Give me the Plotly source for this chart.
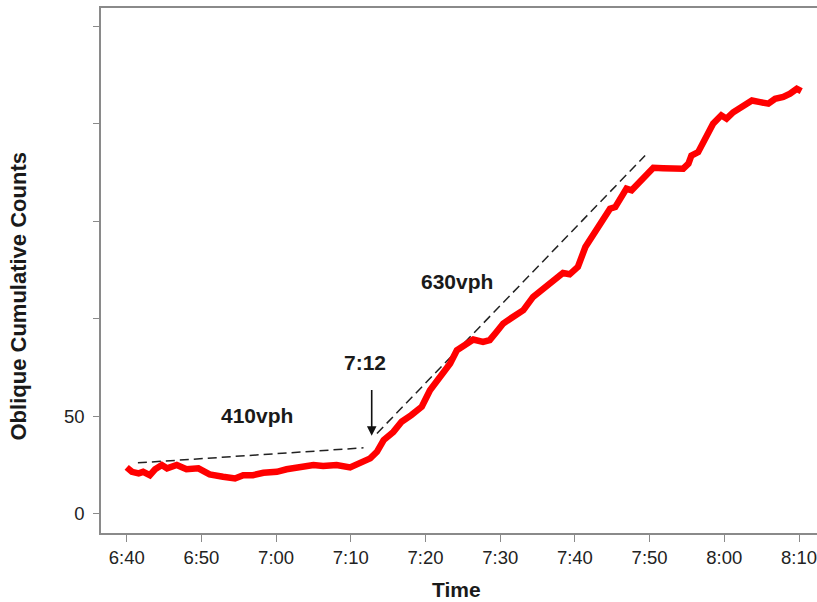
import plotly.graph_objects as go

# Minutes after 6:40 and oblique cumulative counts
time_min = [0, 0.7, 1.6, 2.2, 3.1, 3.8, 4.7, 5.4, 6.7, 8.0, 9.6, 11.1, 12.9, 14.5, 15.6,
            16.9, 18.3, 20.1, 21.4, 23.2, 25.0, 26.3, 28.1, 29.9, 31.2, 32.6, 33.5, 34.4,
            35.7, 36.8, 38.1, 39.5, 40.6, 41.9, 43.3, 44.2, 45.1, 46.4, 47.7, 48.6, 49.5,
            50.4, 51.7, 53.1, 54.4, 55.8, 57.1, 58.4, 59.3, 60.4, 61.4, 62.5, 63.8, 64.7,
            65.4, 66.0, 66.9, 67.6, 68.7, 69.6, 70.5, 71.8, 73.2, 74.5, 75.2, 75.6, 76.5,
            77.6, 78.5, 79.6, 80.3, 81.2, 82.3, 83.7, 84.8, 85.9, 86.8, 87.9, 88.8, 89.7, 90.3]
counts = [23.7, 21.4, 20.6, 21.4, 19.7, 22.7, 24.9, 23.2, 24.9, 22.7, 23.2, 20.1, 18.9, 18.0,
          19.7, 19.7, 20.9, 21.4, 22.7, 24.0, 24.9, 24.4, 24.9, 23.7, 26.1, 28.3, 31.7, 37.7,
          41.9, 47.1, 50.5, 54.8, 63.3, 70.2, 77.0, 83.8, 85.9, 89.3, 88.1, 89.0, 93.2, 97.5,
          100.9, 104.4, 111.2, 115.5, 119.7, 123.5, 122.8, 126.6, 136.8, 143.7, 151.4, 156.5,
          157.3, 161.6, 166.8, 165.9, 170.2, 173.6, 177.5, 177.3, 177.5, 177.0, 179.6, 183.8,
          185.5, 193.2, 200.1, 204.4, 202.7, 206.0, 208.6, 212.0, 211.2, 210.4, 212.9, 213.8,
          215.5, 218.0, 216.8]

# Fitted flow-rate lines
fit1_t = [1.5, 31.7]
fit1_c = [26.0, 33.7]
fit2_t = [33.5, 69.4]
fit2_c = [41.1, 183.8]

# Breakpoint arrow (7:12)
arrow_t = 32.8
arrow_tip = 39.9
arrow_tail = 64.2

x_tickvals = [0, 10, 20, 30, 40, 50, 60, 70, 80, 90]
x_ticktext = ["6:40", "6:50", "7:00", "7:10", "7:20", "7:30", "7:40", "7:50", "8:00", "8:10"]
y_tickvals = [0, 50, 100, 150, 200, 250]
y_ticktext = ["0", "50", "", "", "", ""]

FONT = "Liberation Sans, Arial, sans-serif"
AXIS_COLOR = "#8a8a8a"

fig = go.Figure()
fig.add_trace(go.Scatter(x=fit1_t, y=fit1_c, mode="lines",
                         line=dict(color="#222222", width=1.5, dash="9px,5px"),
                         showlegend=False, hoverinfo="skip"))
fig.add_trace(go.Scatter(x=fit2_t, y=fit2_c, mode="lines",
                         line=dict(color="#222222", width=1.5, dash="9px,5px"),
                         showlegend=False, hoverinfo="skip"))
fig.add_trace(go.Scatter(x=time_min, y=counts, mode="lines",
                         line=dict(color="#ff0000", width=6.5, shape="linear"),
                         showlegend=False))

fig.add_annotation(x=arrow_t, y=arrow_tip, ax=arrow_t, ay=arrow_tail,
                   xref="x", yref="y", axref="x", ayref="y",
                   showarrow=True, arrowhead=2, arrowsize=1.2, arrowwidth=1.6,
                   arrowcolor="#111111", text="", standoff=0)

label_font = dict(family=FONT, size=21, color="#1a1a1a")
fig.add_annotation(x=17.5, y=50.4, text="<b>410vph</b>", showarrow=False,
                   xref="x", yref="y", font=label_font)
fig.add_annotation(x=31.9, y=77.5, text="<b>7:12</b>", showarrow=False,
                   xref="x", yref="y", font=label_font)
fig.add_annotation(x=44.2, y=119.3, text="<b>630vph</b>", showarrow=False,
                   xref="x", yref="y", font=label_font)

# Axis titles
fig.add_annotation(x=0.497, y=-0.1067, xref="paper", yref="paper", text="<b>Time</b>",
                   showarrow=False, font=label_font, xanchor="center", yanchor="middle")
fig.add_annotation(x=-0.1355, y=0.4514, xref="paper", yref="paper",
                   text="<b>Oblique Cumulative Counts</b>", textangle=-90,
                   showarrow=False, font=dict(family=FONT, size=22, color="#1a1a1a"),
                   xanchor="left", yanchor="middle")

fig.update_xaxes(range=[-3.44, 92.41], tickvals=x_tickvals, ticktext=x_ticktext,
                 showline=True, linecolor=AXIS_COLOR, linewidth=1.5, mirror=True,
                 ticks="outside", ticklen=7, tickcolor=AXIS_COLOR, tickwidth=1.3,
                 showgrid=False, zeroline=False, automargin=False,
                 ticklabeloverflow="allow",
                 tickfont=dict(family=FONT, size=18.5, color="#222222"))
fig.update_yaxes(range=[-10, 259.5], tickvals=y_tickvals, ticktext=y_ticktext,
                 showline=True, linecolor=AXIS_COLOR, linewidth=1.5, mirror=False,
                 ticks="outside", ticklen=6, tickcolor=AXIS_COLOR, tickwidth=1.3,
                 showgrid=False, zeroline=False, ticklabelstandoff=5, automargin=False,
                 tickfont=dict(family=FONT, size=18.5, color="#222222"))

fig.update_layout(width=817, height=602,
                  margin=dict(l=101, r=0, t=8, b=69),
                  paper_bgcolor="white", plot_bgcolor="white",
                  font=dict(family=FONT))

# Remove the default page margin so the figure sits at the window's top-left corner
fig.write_html("out.html", config={"displayModeBar": False},
               post_script="document.body.style.margin='0';document.body.style.overflow='hidden';")
